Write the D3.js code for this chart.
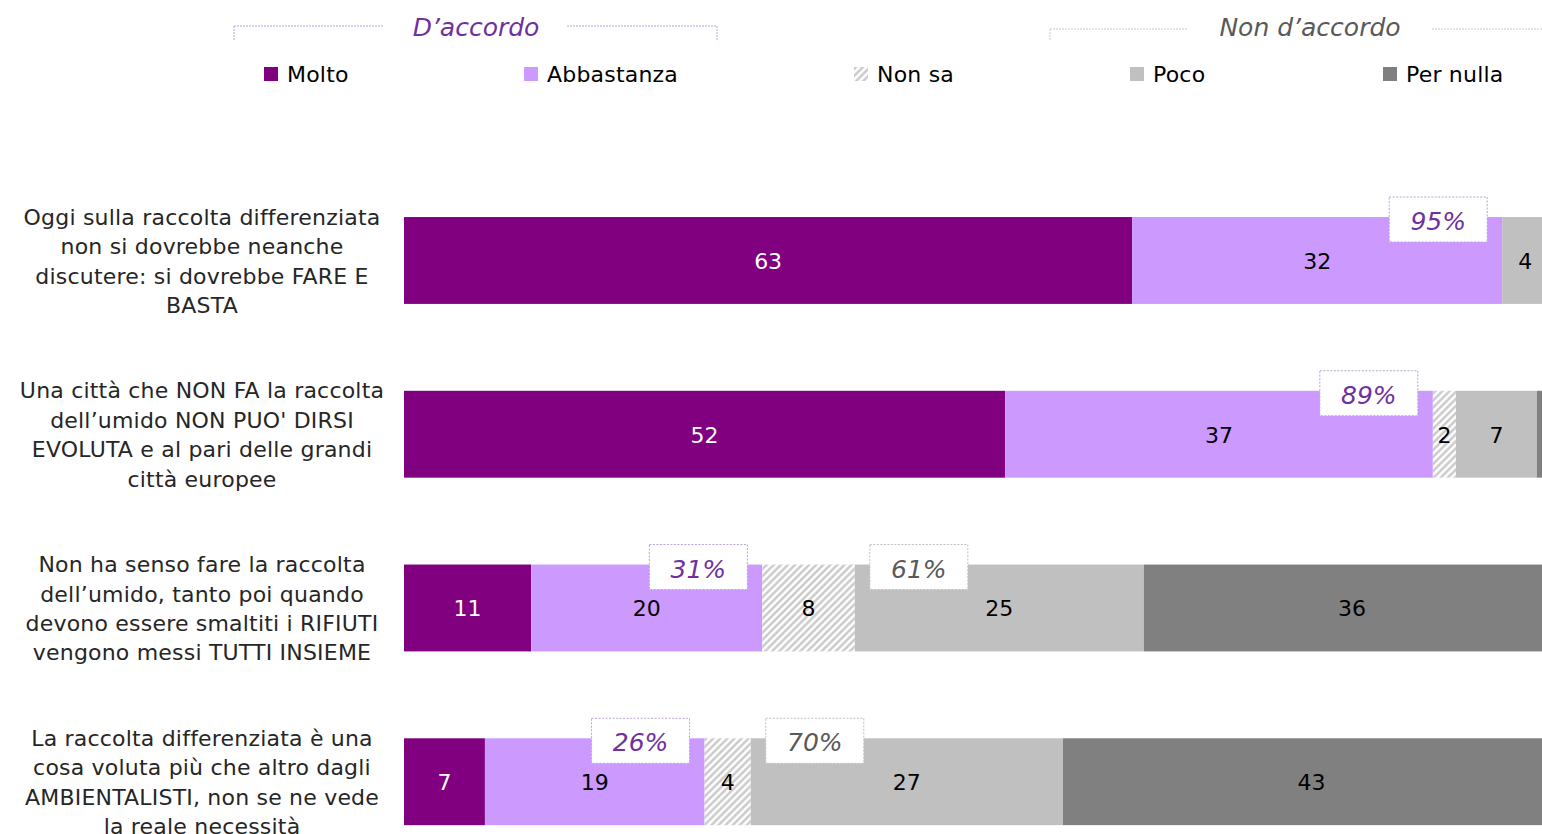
<!DOCTYPE html>
<html>
<head>
<meta charset="utf-8">
<script src="https://cdn.jsdelivr.net/npm/d3@7"></script>
<style>
  body { margin: 0; background: #fff; overflow: hidden; }
  svg { display: block; font-family: "DejaVu Sans", Verdana, sans-serif; }
</style>
</head>
<body>
<svg id="chart" width="1542" height="834"></svg>
<script>
// data
const categories = [
  ['Oggi sulla raccolta differenziata', 'non si dovrebbe neanche', 'discutere: si dovrebbe FARE E', 'BASTA'],
  ['Una città che NON FA la raccolta', 'dell’umido NON PUO\' DIRSI', 'EVOLUTA e al pari delle grandi', 'città europee'],
  ['Non ha senso fare la raccolta', 'dell’umido, tanto poi quando', 'devono essere smaltiti i RIFIUTI', 'vengono messi TUTTI INSIEME'],
  ['La raccolta differenziata è una', 'cosa voluta più che altro dagli', 'AMBIENTALISTI, non se ne vede', 'la reale necessità']
]
const seriesNames = ['Molto', 'Abbastanza', 'Non sa', 'Poco', 'Per nulla']
const molto = [63, 52, 11, 7]
const abbastanza = [32, 37, 20, 19]
const nonSa = [0, 2, 8, 4]
const poco = [4, 7, 25, 27]
const perNulla = [1, 2, 36, 43]
const accordo = [95, 89, 31, 26]
const disaccordo = [null, null, 61, 70]
const groupLabels = ['D’accordo', 'Non d’accordo']

const colors = ['#800080', '#cc99ff', 'url(#hatch)', '#c0c0c0', '#808080']
const labelColors = ['#fff', '#000', '#000', '#000', '#000']
const W = 1542

const svg = d3.select('#chart')

const defs = svg.append('defs')
const pat = defs.append('pattern')
  .attr('id', 'hatch')
  .attr('patternUnits', 'userSpaceOnUse')
  .attr('width', 5)
  .attr('height', 5)
  .attr('patternTransform', 'rotate(45)')
pat.append('rect').attr('width', 5).attr('height', 5).attr('fill', '#fff')
pat.append('line')
  .attr('x1', 1.5).attr('y1', 0).attr('x2', 1.5).attr('y2', 5)
  .attr('stroke', '#c4c4c4').attr('stroke-width', 2.2)

const xScale = d3.scaleLinear().domain([0, 100]).range([404, 1560])
const yScale = d3.scaleBand()
  .domain(d3.range(categories.length))
  .range([173.6, 868.6])
  .paddingInner(0.5)
  .paddingOuter(0.25)

const series = [molto, abbastanza, nonSa, poco, perNulla]
const rows = categories.map((c, i) => {
  let acc = 0
  return series.map((s, k) => {
    const seg = { row: i, k: k, v: s[i], x0: acc, x1: acc + s[i] }
    acc += s[i]
    return seg
  })
})

// bars
const rowG = svg.selectAll('g.row')
  .data(rows)
  .enter()
  .append('g')
  .attr('class', 'row')

rowG.selectAll('rect')
  .data(d => d.filter(s => s.v > 0))
  .enter()
  .append('rect')
  .attr('x', s => xScale(s.x0))
  .attr('y', s => yScale(s.row))
  .attr('width', s => xScale(s.x1) - xScale(s.x0))
  .attr('height', yScale.bandwidth())
  .attr('fill', s => colors[s.k])

// labels whose segment centre runs past the page edge are not visible in the original
rowG.selectAll('text.value')
  .data(d => d.filter(s => s.v > 0 && (xScale(s.x0) + xScale(s.x1)) / 2 < W - 8))
  .enter()
  .append('text')
  .attr('class', 'value')
  .attr('x', s => (xScale(s.x0) + xScale(s.x1)) / 2)
  .attr('y', s => yScale(s.row) + yScale.bandwidth() / 2)
  .attr('dy', '0.38em')
  .attr('text-anchor', 'middle')
  .attr('font-size', 22)
  .attr('fill', s => labelColors[s.k])
  .text(s => s.v)

// category labels
const catText = svg.selectAll('text.cat')
  .data(categories)
  .enter()
  .append('text')
  .attr('class', 'cat')
  .attr('text-anchor', 'middle')
  .attr('font-size', 22)
  .attr('letter-spacing', 0.2)
  .attr('fill', '#262626')
catText.each(function (lines, i) {
  const cy = yScale(i) + yScale.bandwidth() / 2
  const lh = 29.4
  d3.select(this).selectAll('tspan')
    .data(lines)
    .enter()
    .append('tspan')
    .attr('x', 202)
    .attr('y', (l, j) => cy + (j - (lines.length - 1) / 2) * lh)
    .attr('dy', '0.38em')
    .text(l => l)
})

// total boxes
const boxW = 98, boxH = 45
function drawBox(x, i, val, stroke, fill) {
  const y = yScale(i) - 20
  svg.append('rect')
    .attr('x', x).attr('y', y)
    .attr('width', boxW).attr('height', boxH)
    .attr('fill', '#fff')
    .attr('stroke', stroke)
    .attr('stroke-width', 1)
    .attr('stroke-dasharray', '2,1.5')
  svg.append('text')
    .attr('x', x + boxW / 2)
    .attr('y', y + boxH / 2 + 1.5)
    .attr('dy', '0.36em')
    .attr('text-anchor', 'middle')
    .attr('font-size', 25)
    .attr('font-style', 'italic')
    .attr('fill', fill)
    .text(val + '%')
}
accordo.forEach((v, i) => {
  if (v == null) return
  drawBox(xScale(molto[i] + abbastanza[i]) - 15 - boxW, i, v, '#b9a2d6', '#7030a0')
})
disaccordo.forEach((v, i) => {
  if (v == null) return
  drawBox(xScale(molto[i] + abbastanza[i] + nonSa[i]) + 15, i, v, '#bfbfbf', '#595959')
})

// legend
const legendX = [264, 524, 854, 1130, 1383]
const legend = svg.selectAll('g.legend')
  .data(seriesNames)
  .enter()
  .append('g')
  .attr('class', 'legend')
  .attr('transform', (d, i) => `translate(${legendX[i]}, 74)`)
legend.append('rect')
  .attr('x', 0).attr('y', -7)
  .attr('width', 14).attr('height', 14)
  .attr('fill', (d, i) => colors[i])
legend.append('text')
  .attr('x', 23)
  .attr('dy', '0.36em')
  .attr('font-size', 22)
  .attr('letter-spacing', 0.2)
  .attr('fill', '#000')
  .text(d => d)

// group headers with bracket lines
const groups = [
  { label: groupLabels[0], cx: 476, left: [234, 384], right: [567, 717], ly: 26, ticks: [234, 717], stroke: '#b9a2d6', fill: '#7030a0' },
  { label: groupLabels[1], cx: 1310, left: [1050, 1188], right: [1432, 1560], ly: 29, ticks: [1050], stroke: '#c8c8c8', fill: '#595959' }
]
groups.forEach(g => {
  [g.left, g.right].forEach(seg => {
    svg.append('line')
      .attr('x1', seg[0]).attr('x2', seg[1])
      .attr('y1', g.ly).attr('y2', g.ly)
      .attr('stroke', g.stroke)
      .attr('stroke-width', 1)
      .attr('stroke-dasharray', '2,1')
  })
  g.ticks.forEach(t => {
    svg.append('line')
      .attr('x1', t).attr('x2', t)
      .attr('y1', g.ly).attr('y2', 40)
      .attr('stroke', g.stroke)
      .attr('stroke-width', 1)
      .attr('stroke-dasharray', '2,1')
  })
  svg.append('text')
    .attr('x', g.cx)
    .attr('y', 27)
    .attr('dy', '0.36em')
    .attr('text-anchor', 'middle')
    .attr('font-size', 25)
    .attr('font-style', 'italic')
    .attr('fill', g.fill)
    .text(g.label)
})
</script>
</body>
</html>
